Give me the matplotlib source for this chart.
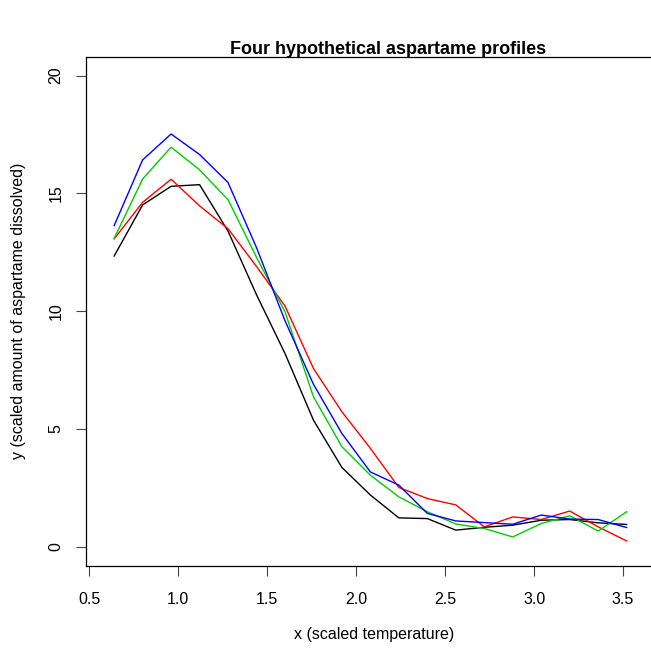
import numpy as np
import matplotlib
matplotlib.use("Agg")
import matplotlib.pyplot as plt

# scaled temperature grid
x = np.arange(0.64, 3.521, 0.16)

# four profiles
black = [12.34, 14.51, 15.30, 15.37, 13.40, 10.70, 8.21, 5.38, 3.37, 2.20,
         1.23, 1.20, 0.71, 0.83, 0.92, 1.13, 1.16, 1.02, 0.95]
red = [13.07, 14.62, 15.60, 14.47, 13.50, 11.90, 10.22, 7.57, 5.73, 4.18,
       2.52, 2.05, 1.78, 0.85, 1.27, 1.16, 1.52, 0.85, 0.25]
green = [13.09, 15.61, 16.96, 16.00, 14.73, 12.29, 9.98, 6.37, 4.25, 3.04,
         2.12, 1.49, 0.97, 0.78, 0.42, 0.99, 1.32, 0.67, 1.49]
blue = [13.63, 16.42, 17.52, 16.65, 15.46, 12.70, 9.60, 6.90, 4.81, 3.18,
        2.62, 1.42, 1.10, 1.03, 0.96, 1.35, 1.18, 1.16, 0.82]

xticks = [0.5, 1.0, 1.5, 2.0, 2.5, 3.0, 3.5]
yticks = [0, 5, 10, 15, 20]

plt.rcParams['font.family'] = ['Liberation Sans', 'DejaVu Sans']

fig = plt.figure(figsize=(6.51, 6.51), dpi=100)
# plot region runs past the right edge like the reference (cropped R device)
ax = fig.add_axes([0.1316, 0.131, 0.8856, 0.7819])

lw = 1.0
ax.plot(x, black, color="black", lw=lw)
ax.plot(x, red, color="#FF0000", lw=lw)
ax.plot(x, green, color="#00CD00", lw=lw)
ax.plot(x, blue, color="#0000FF", lw=lw)

# R style limits: xlim c(0.6, 3.6), ylim c(0, 20), both widened by 4%
ax.set_xlim(0.6 - 0.12, 3.6 + 0.12)
ax.set_ylim(-0.8, 20.8)

ax.set_xticks(xticks)
ax.set_xticklabels([f"{t:.1f}" for t in xticks])
ax.set_yticks(yticks)
ax.set_yticklabels([str(t) for t in yticks], rotation=90, va="center")

ax.tick_params(axis="both", direction="out", length=7, width=0.8,
               labelsize=11.5, color="#444444")
ax.tick_params(axis="x", pad=12)
ax.tick_params(axis="y", pad=9)

for s in ax.spines.values():
    s.set_linewidth(0.9)

ax.set_xlabel("x (scaled temperature)", fontsize=11.5, labelpad=14)
ax.set_ylabel("y (scaled amount of aspartame dissolved)", fontsize=11.5, labelpad=16)
fig.text(388 / 651, 1 - 49 / 651, "Four hypothetical aspartame profiles",
         ha="center", va="center", fontsize=13, fontweight="bold")

fig.savefig("out.png", dpi=100)
